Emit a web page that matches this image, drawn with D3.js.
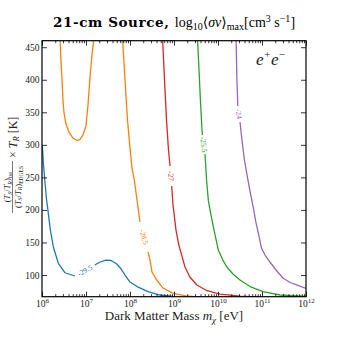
<!DOCTYPE html>
<html>
<head>
<meta charset="utf-8">
<script src="https://cdn.jsdelivr.net/npm/d3@7"></script>
<style>
  body { margin: 0; background: #fff; }
  svg text { font-family: "Liberation Serif", "DejaVu Serif", serif; }
</style>
</head>
<body>
<svg id="chart" width="340" height="340"></svg>
<script>
// Contour levels, log10 <sigma v>_max [cm^3 s^-1]
const levels = ['-29.5', '-28.5', '-27', '-25.5', '-24'];

// Traced curves: log10(m_chi / eV) and T [K]; null marks a break in the line
const blueLogM = [6.007, 6.034, 6.068, 6.1, 6.143, 6.19, 6.257, 6.37, 6.52, 6.75, null,
  7.2, 7.32, 7.45, 7.57, 7.7, 7.8, 7.886, 8.0, 8.16, 8.41, 8.68, 8.977];
const blueT = [300, 269, 243, 218, 195, 169, 143.5, 118, 103.5, 98.5, null,
  115.4, 120, 123, 122.3, 117, 109.2, 100, 89.2, 82.3, 74.6, 69.3, 67];

const orangeLogM = [6.41, 6.43, 6.455, 6.477, 6.5, 6.545, 6.61, 6.7, 6.8, 6.86, 6.93, 7.0, 7.045, 7.09, 7.136, 7.18, null,
  7.83, 7.886, 7.943, 8.0, 8.045, 8.098, 8.16, 8.227, null,
  8.41, 8.455, 8.5, 8.59, 8.75, 8.98, 9.27, 9.59];
const orangeT = [464, 430.5, 400, 369, 349, 332, 320, 310.6, 306.7, 308, 315, 329, 361, 403, 438, 464, null,
  464, 400, 338, 295, 264.5, 246, 215, 181.5, null,
  135.4, 123, 104.6, 93.9, 80, 71.9, 68, 66];

const redLogM = [8.74, 8.784, 8.83, 8.875, 8.91, null,
  8.948, 8.977, 9.0, 9.045, 9.11, 9.18, 9.25, 9.36, 9.52, 9.75, 10.045, 10.5, 11.0];
const redT = [464, 400, 338, 292, 267.5, null,
  236.8, 207.6, 195, 169, 146, 129, 112.3, 97, 84.6, 75.9, 70.8, 67.7, 66];

const greenLogM = [9.534, 9.568, 9.6, 9.643, null,
  9.705, 9.74, 9.78, 9.84, 9.91, 10.007, 10.11, 10.2, 10.34, 10.5, 10.73, 11.02, 11.41, 12.0];
const greenT = [464, 415, 369, 315, null,
  286, 246, 215, 192, 169, 138.4, 123, 112.3, 101.5, 92.3, 82.3, 74.6, 69.3, 67];

const purpleLogM = [10.41, 10.43, 10.45, null,
  10.5, 10.545, 10.6, 10.66, 10.73, 10.8, 10.86, 10.93, 10.99, 11.07, 11.18, 11.32, 11.48, 11.64, 11.8, 12.0];
const purpleT = [464, 400, 359.8, null,
  335, 307.5, 276.8, 253.7, 227.6, 204.5, 181.5, 160, 141, 130.7, 120, 107.7, 95, 88.5, 84.6, 79.5];

const xTickExps = [6, 7, 8, 9, 10, 11, 12];
const yTicks = [100, 150, 200, 250, 300, 350, 400, 450];

const curves = [
  { logM: blueLogM,   T: blueT,   color: '#1f77b4' },
  { logM: orangeLogM, T: orangeT, color: '#ff7f0e' },
  { logM: redLogM,    T: redT,    color: '#d62728' },
  { logM: greenLogM,  T: greenT,  color: '#2ca02c' },
  { logM: purpleLogM, T: purpleT, color: '#9467bd' },
];

const L = 42, R = 306, TOP = 40.7, BOT = 296.7;

const svg = d3.select('#chart');
const x = d3.scaleLog().domain([1e6, 1e12]).range([L, R]);
const y = d3.scaleLinear().domain([66.7, 460]).range([BOT, TOP]);

svg.append('defs').append('clipPath').attr('id', 'plot-clip')
  .append('rect').attr('x', L).attr('y', TOP).attr('width', R - L).attr('height', BOT - TOP);

// ── contours ──
const line = d3.line()
  .defined(d => d[0] !== null)
  .x(d => x(Math.pow(10, d[0])))
  .y(d => y(d[1]));

const gLines = svg.append('g').attr('clip-path', 'url(#plot-clip)');
const gLabels = svg.append('g');

curves.forEach((c, ci) => {
  const pts = c.logM.map((m, i) => [m, c.T[i]]);
  gLines.append('path').datum(pts)
    .attr('d', line)
    .attr('fill', 'none')
    .attr('stroke', c.color)
    .attr('stroke-width', 1.3)
    .attr('stroke-linejoin', 'round');

  // label sits in the gap whose ends are both inside the plot
  pts.forEach((p, i) => {
    if (p[0] !== null) return;
    const a = pts[i - 1], b = pts[i + 1];
    if (a[1] > 460 || b[1] > 460) return;
    const ax = x(Math.pow(10, a[0])), ay = y(a[1]);
    const bx = x(Math.pow(10, b[0])), by = y(b[1]);
    let ang = Math.atan2(by - ay, bx - ax) * 180 / Math.PI;
    if (ang > 90) ang -= 180;
    if (ang < -90) ang += 180;
    gLabels.append('text')
      .attr('transform', `translate(${(ax + bx) / 2},${(ay + by) / 2}) rotate(${ang})`)
      .attr('text-anchor', 'middle')
      .attr('dy', '0.33em')
      .attr('font-size', 7.5)
      .attr('fill', c.color)
      .text(levels[ci]);
  });
});

// ── axes (inward ticks on all four sides) ──
const minors = [];
for (let e = 6; e < 12; e++) for (let k = 2; k <= 9; k++) minors.push(k * Math.pow(10, e));
const majors = xTickExps.map(e => Math.pow(10, e));

function styleAxis(g) {
  g.select('.domain').remove();
  g.selectAll('.tick line').attr('stroke', '#000').attr('stroke-width', 0.8);
}

svg.append('g').attr('transform', `translate(0,${BOT})`)
  .call(d3.axisBottom(x).tickValues(minors).tickSize(-2.5).tickFormat(''))
  .call(styleAxis);
svg.append('g').attr('transform', `translate(0,${TOP})`)
  .call(d3.axisTop(x).tickValues(minors).tickSize(-2.5).tickFormat(''))
  .call(styleAxis);
svg.append('g').attr('transform', `translate(0,${TOP})`)
  .call(d3.axisTop(x).tickValues(majors).tickSize(-5).tickFormat(''))
  .call(styleAxis);

const xAxis = svg.append('g').attr('transform', `translate(0,${BOT})`)
  .call(d3.axisBottom(x).tickValues(majors).tickSize(-5).tickPadding(3).tickFormat(''))
  .call(styleAxis);
xAxis.selectAll('.tick text').each(function (d, i) {
  const t = d3.select(this).attr('font-size', 9.5).attr('fill', '#222').attr('font-family', null);
  t.append('tspan').text('10');
  t.append('tspan').attr('dy', -4).attr('font-size', 7).text(xTickExps[i]);
});
xAxis.selectAll('.tick text').attr('dy', '0.75em');

svg.append('g').attr('transform', `translate(${L},0)`)
  .call(d3.axisLeft(y).tickValues(yTicks).tickSize(-5).tickPadding(2.5))
  .call(styleAxis)
  .call(g => g.selectAll('.tick text').attr('font-size', 9.5).attr('fill', '#222').attr('font-family', null));
svg.append('g').attr('transform', `translate(${R},0)`)
  .call(d3.axisRight(y).tickValues(yTicks).tickSize(-5).tickFormat(''))
  .call(styleAxis);

svg.append('rect')
  .attr('x', L).attr('y', TOP).attr('width', R - L).attr('height', BOT - TOP)
  .attr('fill', 'none').attr('stroke', '#000').attr('stroke-width', 1.2);

// ── texts ──
const title = svg.append('text').attr('x', (L + R) / 2).attr('y', 27)
  .attr('text-anchor', 'middle').attr('font-size', 14);
title.append('tspan').attr('font-weight', 'bold').attr('font-family', '"DejaVu Serif", serif')
  .attr('font-size', 13.5).attr('letter-spacing', 0.6).text('21-cm Source, ');
title.append('tspan').text('log');
title.append('tspan').attr('font-size', 10).attr('dy', 3).text('10');
title.append('tspan').attr('dy', -3).text('\u27E8');
title.append('tspan').attr('font-style', 'italic').text('\u03C3v');
title.append('tspan').text('\u27E9');
title.append('tspan').attr('font-size', 10).attr('dy', 3).text('max');
title.append('tspan').attr('dy', -3).text('[cm');
title.append('tspan').attr('font-size', 10).attr('dy', -5).text('3');
title.append('tspan').attr('dy', 5).text(' s');
title.append('tspan').attr('font-size', 10).attr('dy', -5).text('\u22121');
title.append('tspan').attr('dy', 5).text(']');

const xl = svg.append('text').attr('x', (L + R) / 2).attr('y', 320)
  .attr('text-anchor', 'middle').attr('font-size', 13).attr('fill', '#222');
xl.append('tspan').text('Dark Matter Mass ');
xl.append('tspan').attr('font-style', 'italic').text('m');
xl.append('tspan').attr('font-style', 'italic').attr('font-size', 9).attr('dy', 2.5).text('\u03C7');
xl.append('tspan').attr('dy', -2.5).text(' [eV]');

// y label: fraction x T_R [K], rotated
const yl = svg.append('g').attr('transform', 'translate(14,165) rotate(-90)').attr('fill', '#222');
function ratio(sel, sub, fs) {
  sel.append('tspan').text('(');
  sel.append('tspan').attr('font-style', 'italic').text('T');
  sel.append('tspan').attr('font-style', 'italic').attr('font-size', fs * 0.7).attr('dy', 1.5).text('S');
  sel.append('tspan').attr('dy', -1.5).text('/');
  sel.append('tspan').attr('font-style', 'italic').text('T');
  sel.append('tspan').attr('font-style', 'italic').attr('font-size', fs * 0.7).attr('dy', 1.5).text('R');
  sel.append('tspan').attr('dy', -1.5).text(')');
  sel.append('tspan').attr('font-size', fs * 0.65).attr('dy', 2).text(sub);
}
const fx = -22;
const num = yl.append('text').attr('x', fx).attr('y', -4).attr('text-anchor', 'middle').attr('font-size', 8.5);
ratio(num, 'iso', 8.5);
const den = yl.append('text').attr('x', fx).attr('y', 6.5).attr('text-anchor', 'middle').attr('font-size', 8.5);
ratio(den, 'EDGES', 8.5);
yl.append('line').attr('x1', fx - 26).attr('x2', fx + 26).attr('y1', -1.5).attr('y2', -1.5)
  .attr('stroke', '#222').attr('stroke-width', 0.6);
const tail = yl.append('text').attr('x', fx + 29).attr('y', 2.5).attr('font-size', 12);
tail.append('tspan').text('\u00D7 ');
tail.append('tspan').attr('font-style', 'italic').text('T');
tail.append('tspan').attr('font-style', 'italic').attr('font-size', 8.5).attr('dy', 2.5).text('R');
tail.append('tspan').attr('dy', -2.5).text(' [K]');

// pair-production channel
const ch = svg.append('text').attr('x', 256).attr('y', 65).attr('font-size', 17)
  .attr('font-style', 'italic').attr('fill', '#222');
ch.append('tspan').text('e');
ch.append('tspan').attr('font-size', 11).attr('dy', -7).text('+');
ch.append('tspan').attr('dy', 7).text('e');
ch.append('tspan').attr('font-size', 11).attr('dy', -7).text('\u2212');
</script>
</body>
</html>
